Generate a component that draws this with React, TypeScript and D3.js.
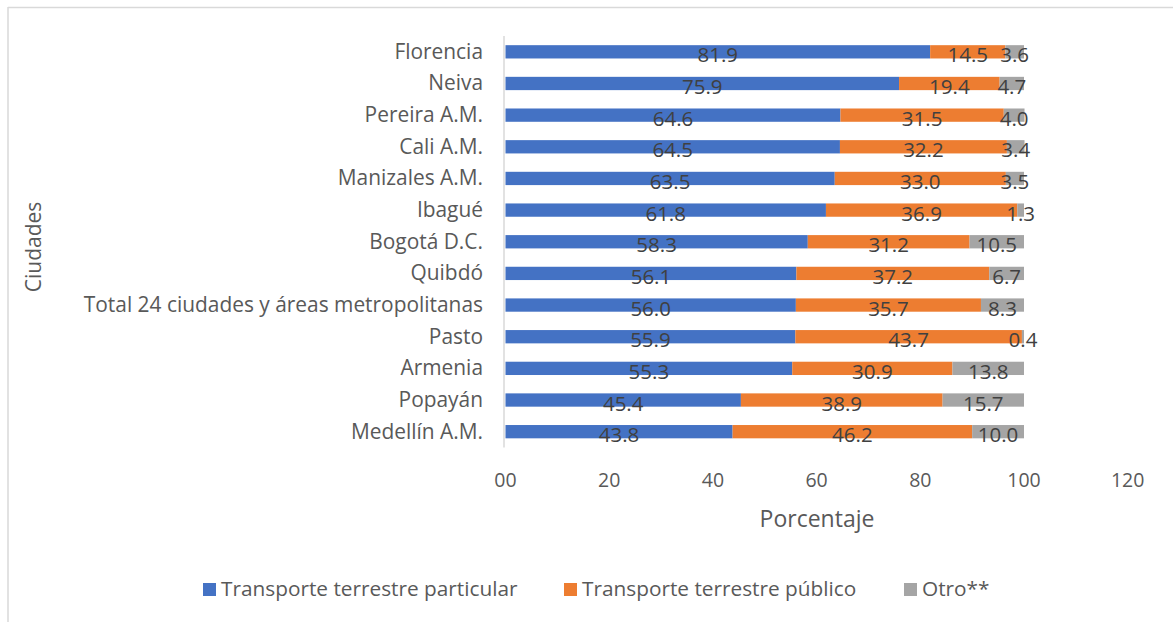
import React, { useEffect, useRef } from "react";
import * as d3 from "d3";

const categories = [
  "Florencia",
  "Neiva",
  "Pereira A.M.",
  "Cali A.M.",
  "Manizales A.M.",
  "Ibagué",
  "Bogotá D.C.",
  "Quibdó",
  "Total 24 ciudades y áreas metropolitanas",
  "Pasto",
  "Armenia",
  "Popayán",
  "Medellín A.M.",
];
const particular = [81.9, 75.9, 64.6, 64.5, 63.5, 61.8, 58.3, 56.1, 56.0, 55.9, 55.3, 45.4, 43.8];
const publico = [14.5, 19.4, 31.5, 32.2, 33.0, 36.9, 31.2, 37.2, 35.7, 43.7, 30.9, 38.9, 46.2];
const otro = [3.6, 4.7, 4.0, 3.4, 3.5, 1.3, 10.5, 6.7, 8.3, 0.4, 13.8, 15.7, 10.0];
const seriesNames = ["Transporte terrestre particular", "Transporte terrestre público", "Otro**"];
const seriesColors = ["#4472C4", "#ED7D31", "#A5A5A5"];
const xTicks = [0, 20, 40, 60, 80, 100, 120];
const xTickLabels = ["00", "20", "40", "60", "80", "100", "120"];

const W = 1173;
const H = 622;
const FONT = "'Open Sans', sans-serif";

export default function App() {
  const ref = useRef<SVGSVGElement | null>(null);

  useEffect(() => {
    const svg = d3.select(ref.current);
    svg.selectAll("*").remove();

    const left = 505.5;
    const x = d3.scaleLinear().domain([0, 100]).range([left, 1024]);
    const y = d3.scaleBand<string>().domain(categories).range([36, 447.5]).paddingInner(0.58).paddingOuter(0.29);

    // border
    svg.append("rect").attr("width", W).attr("height", H).attr("fill", "#fff");
    svg.append("line").attr("x1", 8).attr("x2", W).attr("y1", 7.5).attr("y2", 7.5).attr("stroke", "#d9d9d9").attr("stroke-width", 1.5);
    svg.append("line").attr("x1", 8).attr("x2", 8).attr("y1", 7).attr("y2", H).attr("stroke", "#d9d9d9").attr("stroke-width", 1.5);

    const rows = categories.map((c, i) => ({ c, vals: [particular[i], publico[i], otro[i]] }));
    const stack = d3.stack<any>().keys(["0", "1", "2"]).value((d: any, k: string) => d.vals[+k]);
    const stacked = stack(rows as any);

    // bars
    stacked.forEach((layer, si) => {
      svg.append("g").selectAll("rect").data(layer).join("rect")
        .attr("x", (d: any) => x(d[0]))
        .attr("width", (d: any) => x(d[1]) - x(d[0]))
        .attr("y", (d: any) => y(d.data.c)!)
        .attr("height", y.bandwidth())
        .attr("fill", seriesColors[si]);
    });

    // axis line
    svg.append("line").attr("x1", 504).attr("x2", 504).attr("y1", 36).attr("y2", 447.5)
      .attr("stroke", "#d9d9d9").attr("stroke-width", 1.5);

    // data labels
    stacked.forEach((layer) => {
      svg.append("g").selectAll("text").data(layer).join("text")
        .attr("x", (d: any) => (x(d[0]) + x(d[1])) / 2)
        .attr("y", (d: any) => y(d.data.c)! + y.bandwidth() / 2 + 10.5)
        .attr("text-anchor", "middle")
        .attr("font-family", FONT).attr("font-size", 20.5).attr("fill", "#404040")
        .text((d: any) => (d[1] - d[0]).toFixed(1));
    });

    // category labels
    svg.append("g").selectAll("text").data(categories).join("text")
      .attr("x", 483)
      .attr("y", (d) => y(d)! + y.bandwidth() / 2 + 7)
      .attr("text-anchor", "end")
      .attr("font-family", FONT).attr("font-size", 20.9).attr("fill", "#595959")
      .text((d) => d);

    // x tick labels
    const xs = d3.scaleLinear().domain([0, 120]).range([x(0), x(120)]);
    svg.append("g").selectAll("text").data(xTicks).join("text")
      .attr("x", (d) => xs(d))
      .attr("y", 487)
      .attr("text-anchor", "middle")
      .attr("font-family", FONT).attr("font-size", 19.5).attr("fill", "#595959")
      .text((d, i) => xTickLabels[i]);

    // axis titles
    svg.append("text").attr("x", 817).attr("y", 527).attr("text-anchor", "middle")
      .attr("font-family", FONT).attr("font-size", 23).attr("fill", "#595959").text("Porcentaje");
    svg.append("text").attr("transform", "translate(41,247) rotate(-90)").attr("text-anchor", "middle")
      .attr("font-family", FONT).attr("font-size", 21).attr("fill", "#595959").text("Ciudades");

    // legend
    const legendX = [203, 564, 904];
    seriesNames.forEach((n, i) => {
      svg.append("rect").attr("x", legendX[i]).attr("y", 583).attr("width", 13).attr("height", 13).attr("fill", seriesColors[i]);
      svg.append("text").attr("x", legendX[i] + 18).attr("y", 596)
        .attr("font-family", FONT).attr("font-size", 20.8).attr("fill", "#595959").text(n);
    });
  }, []);

  return (
    <svg ref={ref} width={W} height={H} style={{ position: "absolute", left: 0, top: 0, display: "block" }} />
  );
}
